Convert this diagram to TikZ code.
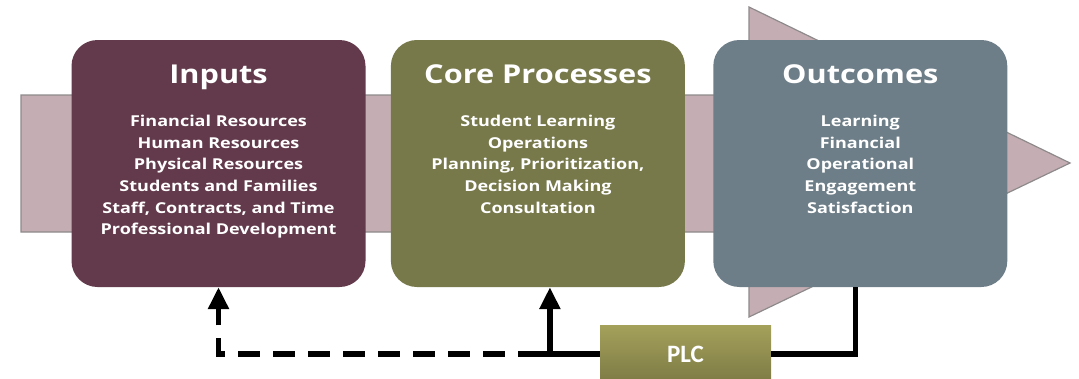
\documentclass[tikz,border=0pt]{standalone}
\usepackage{fontspec}
\setmainfont{Open Sans}
\newfontfamily\titlefont[FakeStretch=1.18]{Open Sans}
\newfontfamily\itemfont[FakeStretch=1.2]{Open Sans}
\newfontfamily\plcfont{Carlito}
\usetikzlibrary{arrows.meta,positioning}

\definecolor{bandpink}{HTML}{C4AEB3}
\definecolor{bandedge}{HTML}{8E8A8B}
\definecolor{inputsred}{HTML}{633A4B}
\definecolor{coreolive}{HTML}{77794B}
\definecolor{outslate}{HTML}{6E7E88}
\definecolor{plctop}{HTML}{A4A15B}
\definecolor{plcbot}{HTML}{7D7A45}

\begin{document}
\begin{tikzpicture}[x=1pt,y=-1pt,
    stage/.style={rounded corners=26pt, minimum width=294pt, minimum height=247pt, inner sep=0pt},
    stagetitle/.style={text=white, anchor=base, inner sep=0pt,
        font=\titlefont\bfseries\fontsize{26}{30}\selectfont},
    stageitems/.style={text=white, anchor=north, align=center, inner sep=0pt,
        font=\itemfont\bfseries\fontsize{15}{21.7}\selectfont},
    link/.style={line width=5.5pt},
    linkup/.style={link, -{Triangle[length=22pt,width=20pt]}}]
    \useasboundingbox (0,0) rectangle (1079,378);

    % big arrow behind the boxes
    \draw[bandedge, fill=bandpink, line width=1.2pt]
        (21,95) -- (749,95) -- (749,7) -- (1070,163) -- (749,317) -- (749,232) -- (21,232) -- cycle;

    % the three stages
    \node[stage, fill=inputsred] (inputs) at (218.5,163.5) {};
    \node[stage, fill=coreolive, right=25pt of inputs] (core) {};
    \node[stage, fill=outslate, right=28pt of core] (outcomes) {};

    \node[stagetitle] (inputsT) at ([yshift=-44pt]inputs.north) {Inputs};
    \node[stagetitle] (coreT) at ([yshift=-44pt]core.north) {Core Processes};
    \node[stagetitle] (outcomesT) at ([yshift=-44pt]outcomes.north) {Outcomes};

    \node[stageitems] (inputsL) at ([yshift=-75pt]inputs.north)
        {Financial Resources\\Human Resources\\Physical Resources\\Students and Families\\Staff, Contracts, and Time\\Professional Development};
    \node[stageitems] (coreL) at ([yshift=-75pt]core.north)
        {Student Learning\\Operations\\Planning, Prioritization,\\Decision Making\\Consultation};
    \node[stageitems] (outcomesL) at ([yshift=-75pt]outcomes.north)
        {Learning\\Financial\\Operational\\Engagement\\Satisfaction};

    % PLC and the feedback lines
    \node[top color=plctop, bottom color=plcbot, minimum width=171pt, minimum height=58pt,
        inner sep=0pt, text=white, font=\plcfont\bfseries\fontsize{25}{30}\selectfont]
        (plc) at (685.5,354) {PLC};

    \coordinate (split) at ([xshift=12pt]core.south |- plc.west);
    \draw[link] (plc.east) -| ([xshift=-5pt]outcomes.south);
    \draw[linkup] (plc.west) -| ([xshift=12pt]core.south);
    \draw[link] (split) -- ++(-10,0);
    \draw[linkup, dash pattern=on 22pt off 13pt] ([xshift=-10pt]split) -| (inputs.south);
\end{tikzpicture}
\end{document}
